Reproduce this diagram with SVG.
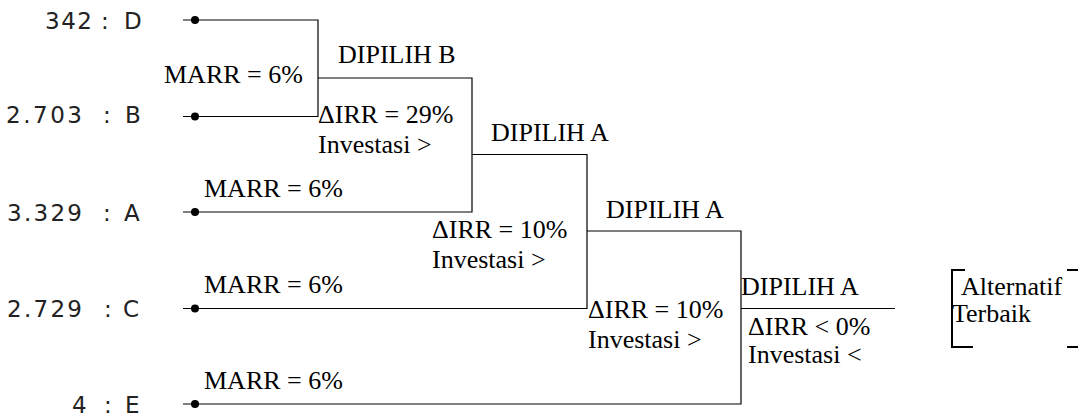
<svg xmlns="http://www.w3.org/2000/svg" width="1078" height="419" viewBox="0 0 1078 419">
<style>
.lbl{font-family:"DejaVu Sans","Liberation Sans",Arial,sans-serif;font-size:23px;fill:#222}
.t{font-family:"Liberation Serif","Times New Roman",serif;font-size:26px;fill:#000}
.ln{stroke:#000;stroke-width:1.2;fill:none}
.br{stroke:#000;stroke-width:2;fill:none}
.dot{fill:#000}
</style>
<rect width="1078" height="419" fill="#fff"/>
<g id="node-D">
<text class="lbl" x="45" y="29" textLength="47" lengthAdjust="spacing">342</text>
<text class="lbl" x="101" y="29">:</text>
<text class="lbl" x="124" y="29">D</text>
<circle class="dot" cx="195" cy="20" r="4"/>
</g>
<g id="node-B">
<text class="lbl" x="6" y="123" textLength="76" lengthAdjust="spacing">2.703</text>
<text class="lbl" x="103" y="123">:</text>
<text class="lbl" x="125" y="123">B</text>
<circle class="dot" cx="195" cy="116.5" r="4"/>
</g>
<g id="node-A">
<text class="lbl" x="7" y="221" textLength="75" lengthAdjust="spacing">3.329</text>
<text class="lbl" x="103" y="221">:</text>
<text class="lbl" x="124" y="221">A</text>
<circle class="dot" cx="195" cy="212" r="4"/>
</g>
<g id="node-C">
<text class="lbl" x="7" y="317" textLength="75" lengthAdjust="spacing">2.729</text>
<text class="lbl" x="104" y="317">:</text>
<text class="lbl" x="123" y="317">C</text>
<circle class="dot" cx="195" cy="308.5" r="4"/>
</g>
<g id="node-E">
<text class="lbl" x="72" y="413">4</text>
<text class="lbl" x="104" y="413">:</text>
<text class="lbl" x="125" y="413">E</text>
<circle class="dot" cx="195" cy="404" r="4"/>
</g>
<g id="connectors">
<path class="ln" d="M183 20H318V116.5H183"/>
<path class="ln" d="M318 78H472V212H183"/>
<path class="ln" d="M472 154.5H587V308.5H183"/>
<path class="ln" d="M587 231H741V404H183"/>
<path class="ln" d="M741 308.5H895"/>
</g>
<g id="labels">
<text class="t" x="164" y="83">MARR = 6%</text>
<text class="t" x="338" y="63">DIPILIH B</text>
<text class="t" x="318" y="123">ΔIRR = 29%</text>
<text class="t" x="318" y="153">Investasi &gt;</text>
<text class="t" x="204" y="197">MARR = 6%</text>
<text class="t" x="491" y="141">DIPILIH A</text>
<text class="t" x="432" y="238">ΔIRR = 10%</text>
<text class="t" x="432" y="268">Investasi &gt;</text>
<text class="t" x="606" y="218">DIPILIH A</text>
<text class="t" x="204" y="293">MARR = 6%</text>
<text class="t" x="741" y="295">DIPILIH A</text>
<text class="t" x="588" y="318">ΔIRR = 10%</text>
<text class="t" x="588" y="348">Investasi &gt;</text>
<text class="t" x="748" y="335">ΔIRR &lt; 0%</text>
<text class="t" x="748" y="363">Investasi &lt;</text>
<text class="t" x="204" y="389">MARR = 6%</text>
</g>
<g id="result">
<path class="br" d="M965 270H952V347H973"/>
<path class="br" d="M1067 270H1078M1067 347H1078"/>
<text class="t" x="961" y="295" font-size="25">Alternatif</text>
<text class="t" x="952" y="322" font-size="25">Terbaik</text>
</g>
</svg>
